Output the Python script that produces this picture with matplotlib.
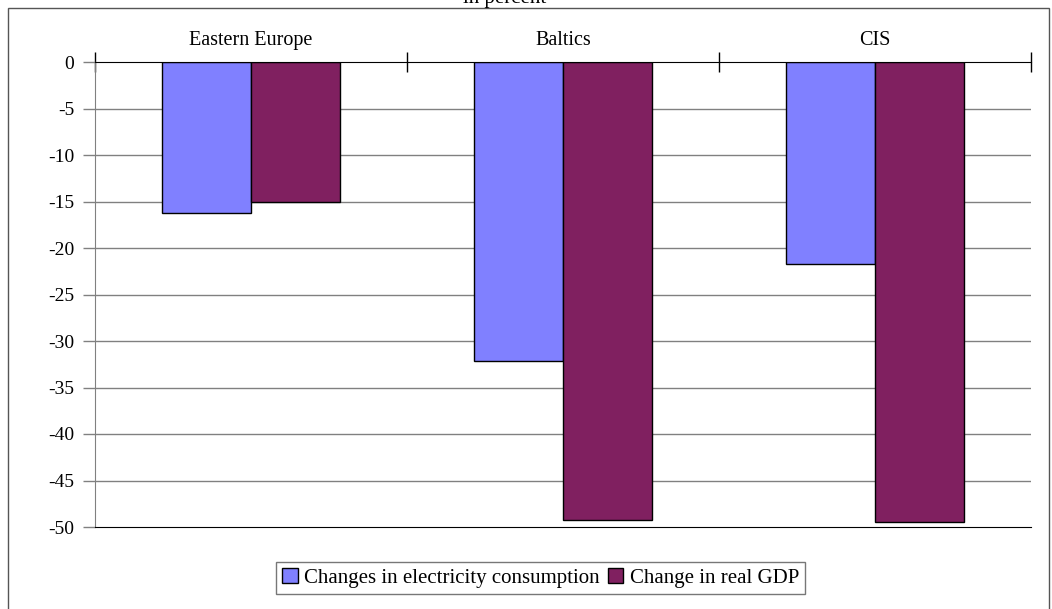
import matplotlib.pyplot as plt
import numpy as np

# === Data ===
regions = ["Eastern Europe", "Baltics", "CIS"]
electricity = [-16.2, -32.1, -21.7]
real_gdp = [-15.1, -49.2, -49.5]
y_ticks = [0, -5, -10, -15, -20, -25, -30, -35, -40, -45, -50]

plt.rcParams['font.family'] = ['Liberation Serif', 'DejaVu Serif']

W, H = 1052, 609
fig = plt.figure(figsize=(W / 100, H / 100), dpi=100)

# outer chart frame
frame = plt.Rectangle((8 / W, -0.01), (1049 - 8) / W, (H - 8) / H + 0.01,
                      transform=fig.transFigure, fill=False,
                      edgecolor='#555555', linewidth=1.0)
fig.patches.append(frame)

# title sits above the frame, mostly cut off at the top
fig.text(505 / W, (H - 3) / H, "in percent", ha='center', va='baseline',
         fontsize=15)

# === Plot area ===
ax = fig.add_axes([95 / W, (H - 527) / H, (1031 - 95) / W, (527 - 62) / H])

x = np.arange(len(regions)) + 0.5
width = 0.285
ax.bar(x - width / 2, electricity, width, color='#8080FF', edgecolor='black',
       linewidth=1.0, label='Changes in electricity consumption', zorder=3)
ax.bar(x + width / 2, real_gdp, width, color='#802060', edgecolor='black',
       linewidth=1.0, label='Change in real GDP', zorder=3)

ax.set_xlim(0, len(regions))
ax.set_ylim(-50, 0)
ax.set_yticks(y_ticks)
ax.set_yticklabels([str(v) for v in y_ticks], fontsize=14)

# gridlines
for v in y_ticks[1:-1]:
    ax.axhline(v, color='#808080', linewidth=1.0, zorder=1)

# category axis along the zero line, labels on top
ax.xaxis.tick_top()
ax.set_xticks(np.arange(len(regions) + 1))
ax.set_xticklabels([])
ax.set_xticks(x, minor=True)
ax.set_xticklabels(regions, minor=True, fontsize=14.5)
ax.tick_params(axis='x', which='major', direction='inout', length=14,
               width=1.0, color='black')
ax.tick_params(axis='x', which='minor', length=0, pad=9)
ax.tick_params(axis='y', direction='out', length=9, width=1.0,
               color='#808080', pad=6)

ax.spines['right'].set_visible(False)
ax.spines['left'].set_color('#808080')
ax.spines['top'].set_color('black')
ax.spines['bottom'].set_color('black')
ax.spines['top'].set_zorder(4)

leg = ax.legend(loc='upper center', bbox_to_anchor=(0.476, -0.075), ncol=2,
                frameon=True, fancybox=False, edgecolor='#555555',
                fontsize=15, handlelength=0.75, handleheight=0.75,
                handletextpad=0.3, columnspacing=0.4, borderpad=0.3,
                borderaxespad=0)
leg.get_frame().set_linewidth(1.0)

fig.savefig("out.png", dpi=100)
